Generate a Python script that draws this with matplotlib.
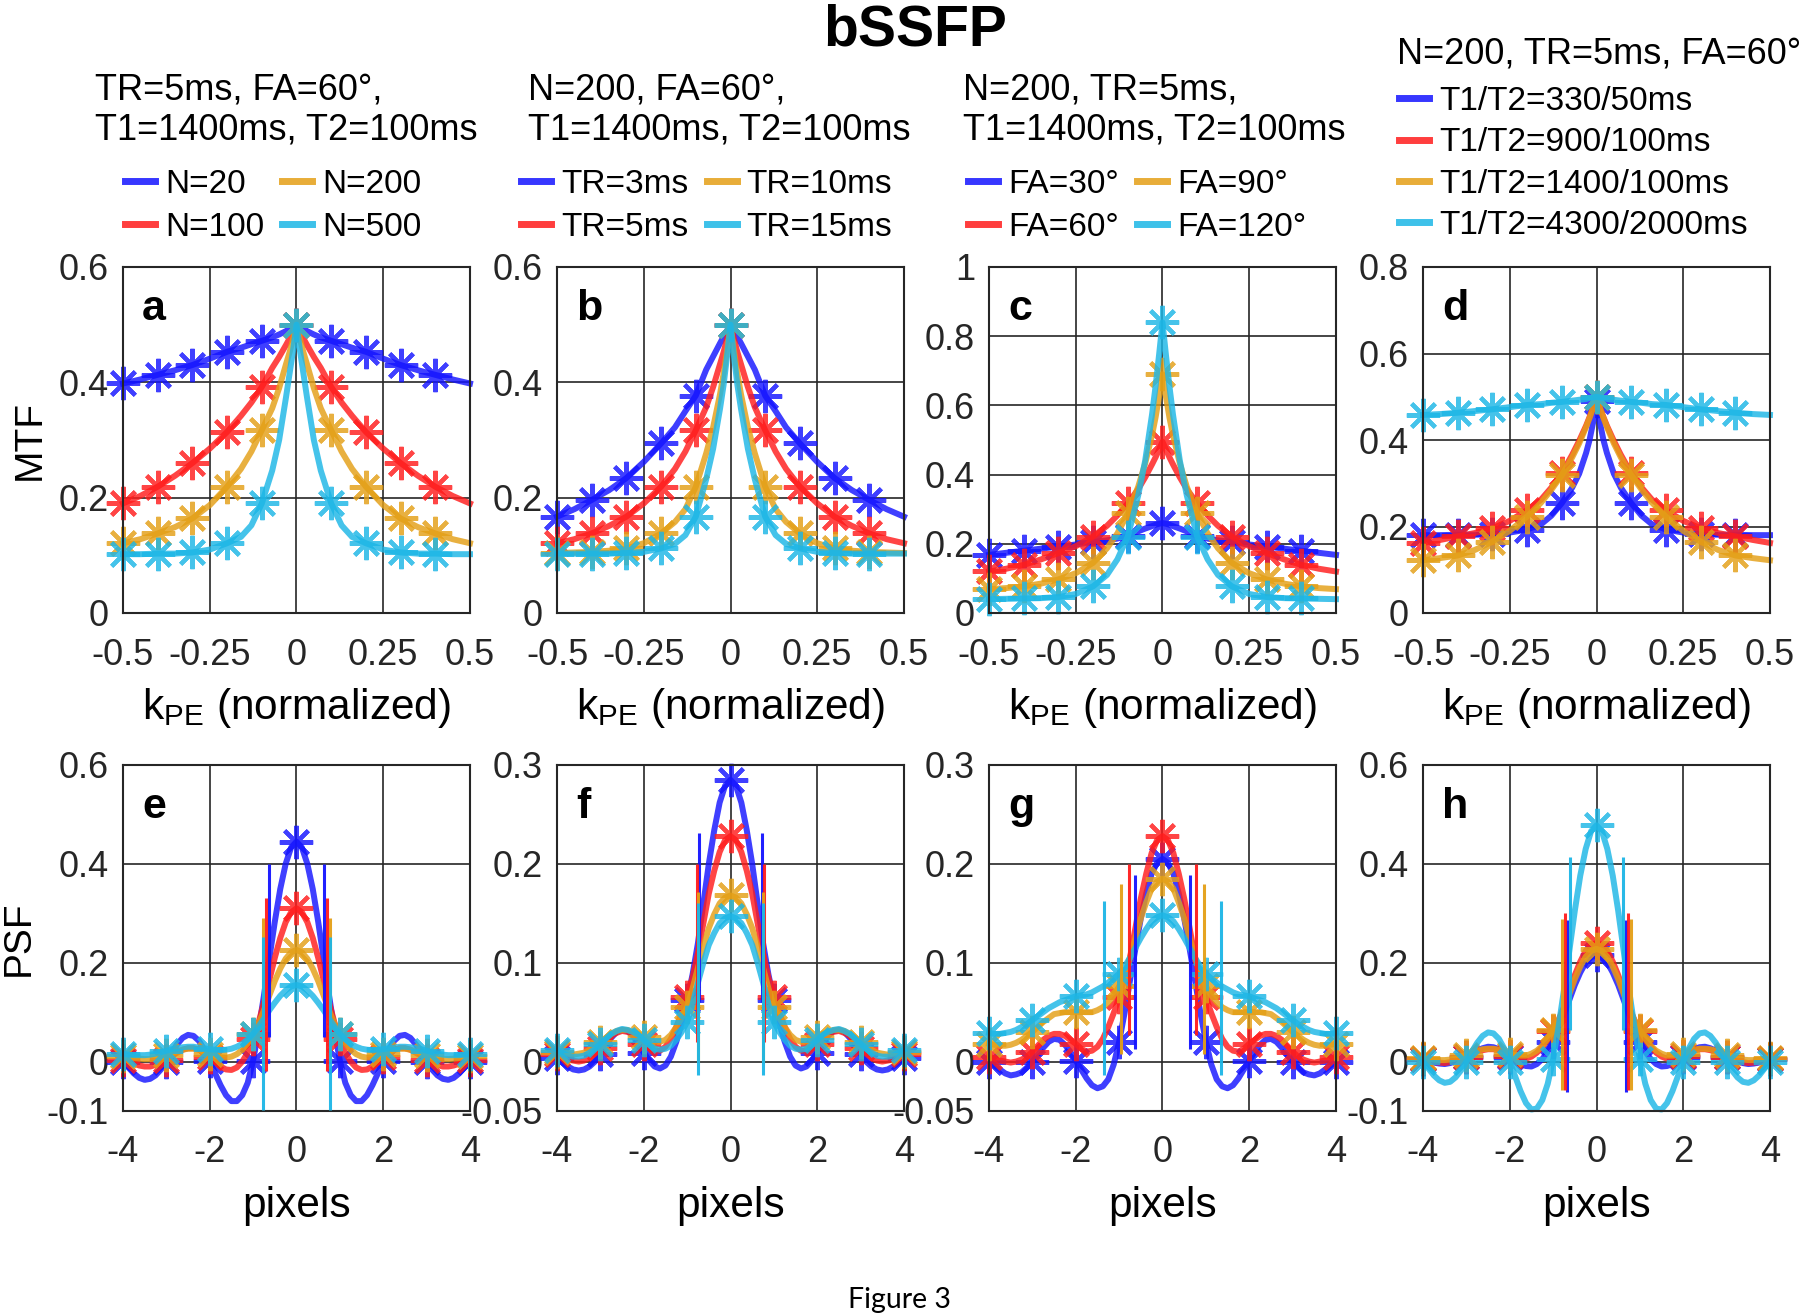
import numpy as np
import matplotlib
matplotlib.use("Agg")
import matplotlib.pyplot as plt
from matplotlib.lines import Line2D

plt.rcParams['font.family'] = ['Liberation Sans', 'DejaVu Sans']
plt.rcParams['mathtext.fontset'] = 'custom'
plt.rcParams['mathtext.rm'] = 'Liberation Sans'
plt.rcParams['mathtext.it'] = 'Liberation Sans:italic'

# ---------------- data (curves are symmetric, only k>=0 / x>=0 half is stored) -------------
k_half = [0, 0.01, 0.02, 0.03, 0.05, 0.07, 0.1, 0.13, 0.16, 0.2, 0.25, 0.3, 0.35, 0.4, 0.45, 0.5]
k_marks = [-0.5, -0.4, -0.3, -0.2, -0.1, 0.0, 0.1, 0.2, 0.3, 0.4]
pix_half = [0, 0.125, 0.25, 0.375, 0.5, 0.625, 0.75, 0.875, 1, 1.125, 1.25, 1.375, 1.5, 1.625, 1.75, 1.875,
            2, 2.125, 2.25, 2.375, 2.5, 2.625, 2.75, 2.875, 3, 3.125, 3.25, 3.375, 3.5, 3.625, 3.75, 3.875, 4]
pix_marks = [-4, -3, -2, -1, 0, 1, 2, 3, 4]

# MTF, panel a (N)
mtf_a = [
    [0.500, 0.496, 0.493, 0.489, 0.483, 0.478, 0.472, 0.466, 0.460, 0.453, 0.441, 0.430, 0.421, 0.413, 0.405, 0.398],
    [0.500, 0.488, 0.476, 0.465, 0.444, 0.425, 0.392, 0.365, 0.342, 0.314, 0.285, 0.260, 0.238, 0.219, 0.203, 0.190],
    [0.500, 0.475, 0.452, 0.432, 0.390, 0.355, 0.317, 0.280, 0.250, 0.219, 0.187, 0.164, 0.149, 0.138, 0.128, 0.121],
    [0.500, 0.455, 0.415, 0.375, 0.300, 0.247, 0.190, 0.152, 0.132, 0.121, 0.110, 0.105, 0.103, 0.103, 0.102, 0.102],
]
# MTF, panel b (TR)
mtf_b = [
    [0.500, 0.490, 0.479, 0.468, 0.445, 0.422, 0.377, 0.350, 0.322, 0.294, 0.262, 0.234, 0.213, 0.196, 0.180, 0.167],
    [0.500, 0.475, 0.452, 0.432, 0.392, 0.357, 0.317, 0.280, 0.250, 0.219, 0.190, 0.167, 0.151, 0.138, 0.128, 0.121],
    [0.500, 0.455, 0.415, 0.380, 0.322, 0.277, 0.219, 0.180, 0.158, 0.138, 0.121, 0.112, 0.108, 0.106, 0.105, 0.104],
    [0.500, 0.445, 0.395, 0.355, 0.285, 0.232, 0.167, 0.135, 0.120, 0.112, 0.106, 0.104, 0.103, 0.103, 0.103, 0.103],
]
# MTF, panel c (FA)
mtf_c = [
    [0.260, 0.258, 0.255, 0.251, 0.244, 0.236, 0.222, 0.215, 0.210, 0.205, 0.198, 0.192, 0.186, 0.180, 0.174, 0.168],
    [0.495, 0.472, 0.450, 0.430, 0.392, 0.358, 0.317, 0.282, 0.252, 0.221, 0.193, 0.173, 0.155, 0.139, 0.128, 0.120],
    [0.690, 0.625, 0.565, 0.515, 0.432, 0.365, 0.288, 0.230, 0.187, 0.145, 0.115, 0.097, 0.085, 0.077, 0.072, 0.069],
    [0.840, 0.745, 0.655, 0.575, 0.440, 0.340, 0.221, 0.155, 0.110, 0.077, 0.055, 0.046, 0.043, 0.042, 0.041, 0.040],
]
# MTF, panel d (T1/T2)
mtf_d = [
    [0.490, 0.440, 0.400, 0.370, 0.322, 0.290, 0.254, 0.225, 0.205, 0.193, 0.186, 0.182, 0.181, 0.181, 0.180, 0.180],
    [0.500, 0.475, 0.453, 0.433, 0.398, 0.366, 0.323, 0.290, 0.262, 0.238, 0.213, 0.196, 0.185, 0.177, 0.169, 0.162],
    [0.500, 0.474, 0.451, 0.430, 0.392, 0.360, 0.319, 0.285, 0.255, 0.223, 0.190, 0.165, 0.146, 0.133, 0.127, 0.122],
    [0.500, 0.498, 0.497, 0.495, 0.493, 0.491, 0.488, 0.486, 0.483, 0.481, 0.476, 0.471, 0.467, 0.463, 0.460, 0.458],
]

# PSF, panel e (N)
psf_e = [
    [0.445, 0.433, 0.400, 0.349, 0.283, 0.209, 0.134, 0.063, 0.002, -0.043, -0.068, -0.080, -0.080, -0.068, -0.048, -0.024,
     0.001, 0.024, 0.042, 0.052, 0.054, 0.048, 0.035, 0.018, 0.000, -0.016, -0.028, -0.035, -0.037, -0.033, -0.024, -0.012, 0.000],
    [0.310, 0.302, 0.282, 0.250, 0.210, 0.165, 0.120, 0.079, 0.045, 0.018, 0.000, -0.012, -0.017, -0.016, -0.010, -0.001,
     0.009, 0.018, 0.024, 0.027, 0.027, 0.024, 0.018, 0.011, 0.004, -0.002, -0.007, -0.010, -0.010, -0.008, -0.004, 0.000, 0.004],
    [0.226, 0.221, 0.208, 0.188, 0.163, 0.134, 0.104, 0.077, 0.055, 0.037, 0.024, 0.015, 0.010, 0.008, 0.009, 0.012,
     0.016, 0.020, 0.024, 0.026, 0.026, 0.024, 0.021, 0.017, 0.013, 0.009, 0.006, 0.005, 0.005, 0.006, 0.007, 0.009, 0.011],
    [0.155, 0.152, 0.144, 0.133, 0.119, 0.104, 0.087, 0.071, 0.056, 0.045, 0.036, 0.030, 0.026, 0.024, 0.023, 0.024,
     0.025, 0.027, 0.028, 0.030, 0.030, 0.029, 0.027, 0.025, 0.022, 0.019, 0.016, 0.014, 0.013, 0.013, 0.013, 0.014, 0.016],
]
# PSF, panel f (TR)
psf_f = [
    [0.285, 0.279, 0.262, 0.234, 0.200, 0.160, 0.120, 0.088, 0.062, 0.039, 0.020, 0.005, -0.004, -0.007, -0.005, 0.001,
     0.009, 0.018, 0.026, 0.031, 0.032, 0.030, 0.024, 0.016, 0.008, 0.000, -0.005, -0.008, -0.009, -0.008, -0.005, -0.001, 0.004],
    [0.228, 0.224, 0.212, 0.193, 0.170, 0.140, 0.110, 0.085, 0.065, 0.049, 0.035, 0.023, 0.015, 0.011, 0.011, 0.014,
     0.018, 0.023, 0.028, 0.030, 0.031, 0.029, 0.026, 0.020, 0.014, 0.008, 0.004, 0.001, 0.000, 0.001, 0.002, 0.005, 0.008],
    [0.168, 0.166, 0.160, 0.149, 0.135, 0.116, 0.095, 0.074, 0.055, 0.044, 0.035, 0.027, 0.022, 0.020, 0.020, 0.022,
     0.025, 0.028, 0.030, 0.032, 0.032, 0.031, 0.028, 0.024, 0.020, 0.016, 0.012, 0.009, 0.008, 0.007, 0.008, 0.009, 0.010],
    [0.147, 0.145, 0.140, 0.130, 0.118, 0.100, 0.080, 0.058, 0.040, 0.030, 0.022, 0.016, 0.013, 0.012, 0.013, 0.017,
     0.022, 0.027, 0.030, 0.032, 0.033, 0.031, 0.028, 0.023, 0.018, 0.013, 0.009, 0.006, 0.005, 0.005, 0.006, 0.009, 0.012],
]
# PSF, panel g (FA)
psf_g = [
    [0.205, 0.201, 0.190, 0.170, 0.145, 0.114, 0.082, 0.049, 0.020, -0.003, -0.018, -0.025, -0.027, -0.024, -0.017, -0.008,
     0.001, 0.010, 0.017, 0.022, 0.023, 0.020, 0.014, 0.007, 0.000, -0.006, -0.011, -0.013, -0.014, -0.012, -0.008, -0.004, 0.000],
    [0.228, 0.224, 0.211, 0.190, 0.165, 0.135, 0.105, 0.083, 0.065, 0.049, 0.035, 0.023, 0.015, 0.011, 0.010, 0.013,
     0.018, 0.022, 0.026, 0.028, 0.028, 0.026, 0.022, 0.016, 0.010, 0.005, 0.002, 0.000, -0.001, 0.000, 0.001, 0.003, 0.005],
    [0.185, 0.182, 0.175, 0.161, 0.145, 0.125, 0.105, 0.089, 0.076, 0.067, 0.060, 0.055, 0.052, 0.050, 0.050, 0.050,
     0.050, 0.050, 0.050, 0.049, 0.048, 0.044, 0.040, 0.035, 0.030, 0.026, 0.022, 0.019, 0.017, 0.016, 0.016, 0.017, 0.018],
    [0.148, 0.146, 0.142, 0.134, 0.125, 0.115, 0.105, 0.096, 0.089, 0.084, 0.080, 0.076, 0.073, 0.070, 0.068, 0.067,
     0.066, 0.064, 0.062, 0.060, 0.057, 0.054, 0.050, 0.046, 0.042, 0.038, 0.035, 0.032, 0.030, 0.029, 0.028, 0.028, 0.029],
]
# PSF, panel h (T1/T2)
psf_h = [
    [0.215, 0.211, 0.200, 0.180, 0.155, 0.125, 0.095, 0.066, 0.040, 0.020, 0.005, -0.005, -0.010, -0.009, -0.005, 0.002,
     0.010, 0.018, 0.025, 0.029, 0.030, 0.027, 0.022, 0.016, 0.010, 0.004, 0.000, -0.003, -0.005, -0.004, -0.002, 0.001, 0.005],
    [0.240, 0.236, 0.224, 0.202, 0.175, 0.143, 0.110, 0.084, 0.062, 0.044, 0.030, 0.018, 0.010, 0.006, 0.005, 0.008,
     0.012, 0.017, 0.022, 0.025, 0.025, 0.023, 0.020, 0.015, 0.010, 0.005, 0.002, -0.001, -0.003, -0.002, -0.001, 0.002, 0.005],
    [0.228, 0.224, 0.212, 0.192, 0.167, 0.137, 0.107, 0.084, 0.064, 0.046, 0.032, 0.022, 0.016, 0.012, 0.012, 0.013,
     0.016, 0.020, 0.024, 0.026, 0.026, 0.025, 0.022, 0.018, 0.014, 0.010, 0.006, 0.004, 0.003, 0.003, 0.004, 0.006, 0.008],
    [0.478, 0.466, 0.430, 0.376, 0.305, 0.225, 0.145, 0.070, 0.005, -0.045, -0.078, -0.095, -0.097, -0.084, -0.060, -0.030,
     0.000, 0.026, 0.046, 0.057, 0.059, 0.052, 0.038, 0.020, 0.000, -0.018, -0.032, -0.041, -0.043, -0.038, -0.028, -0.014, 0.000],
]

# width markers drawn in the PSF panels: half position, lower end, upper end
fwhm_e = ([0.63, 0.71, 0.77, 0.765], [0.05, -0.02, 0.0, -0.098], [0.40, 0.33, 0.29, 0.253])
fwhm_f = ([0.73, 0.77, 0.755, 0.755], [0.06, 0.02, 0.0, -0.014], [0.231, 0.20, 0.172, 0.16])
fwhm_g = ([0.64, 0.77, 0.96, 1.35], [0.013, 0.027, 0.008, -0.0135], [0.189, 0.20, 0.18, 0.162])
fwhm_h = ([0.68, 0.73, 0.785, 0.615], [-0.061, -0.058, -0.058, 0.064], [0.286, 0.30, 0.288, 0.414])

legend_a = ['N=20', 'N=100', 'N=200', 'N=500']
legend_b = ['TR=3ms', 'TR=5ms', 'TR=10ms', 'TR=15ms']
legend_c = ['FA=30°', 'FA=60°', 'FA=90°', 'FA=120°']
legend_d = ['T1/T2=330/50ms', 'T1/T2=900/100ms', 'T1/T2=1400/100ms', 'T1/T2=4300/2000ms']

header_a = ['TR=5ms, FA=60°,', 'T1=1400ms, T2=100ms']
header_b = ['N=200, FA=60°,', 'T1=1400ms, T2=100ms']
header_c = ['N=200, TR=5ms,', 'T1=1400ms, T2=100ms']
header_d = ['N=200, TR=5ms, FA=60°']

mtf_xticks = [-0.5, -0.25, 0, 0.25, 0.5]
mtf_xlabels = ['-0.5', '-0.25', '0', '0.25', '0.5']
psf_xticks = [-4, -2, 0, 2, 4]
psf_xlabels = ['-4', '-2', '0', '2', '4']

colors = ['#1414ff', '#ff1c1c', '#e49f16', '#1cb6e6']

# ---------------- layout ----------------
W, H = 1800, 1315
fig = plt.figure(figsize=(18, 13.15), dpi=100)
lefts = [123, 557, 989, 1423]


def add_ax(left_px, top_px):
    return fig.add_axes([left_px / W, 1 - (top_px + 346) / H, 347 / W, 346 / H])


def mirror(hx, hy):
    hx = np.asarray(hx, float)
    hy = np.asarray(hy, float)
    return np.r_[-hx[:0:-1], hx], np.r_[hy[:0:-1], hy]


def draw(ax, hx, series, marks):
    for vals, c in zip(series, colors):
        x, y = mirror(hx, vals)
        idx = np.flatnonzero(np.isin(np.round(x, 3), np.round(marks, 3))).tolist()
        ax.plot(x, y, color=c, lw=4.3, alpha=0.82, marker=(8, 2, 0), ms=24, mew=3,
                markevery=idx, clip_on=False, zorder=2, solid_joinstyle='round')


def style(ax, xlim, xt, xl, ylim, yt, yl, letter, xpad):
    ax.set_xlim(xlim)
    ax.set_ylim(ylim)
    ax.set_xticks(xt, xl)
    ax.set_yticks(yt, yl)
    ax.grid(True, color='#262626', lw=1.2)
    ax.set_axisbelow(True)
    ax.tick_params(length=0, labelsize=26, pad=10, colors='#262626')
    ax.tick_params(axis='x', pad=xpad)
    for s in ax.spines.values():
        s.set_linewidth(1.5)
        s.set_color('#262626')
    ax.text(0.055, 0.847, letter, transform=ax.transAxes, fontsize=31, weight='bold')


def side_label(ax, text, x_px):
    ax.set_ylabel(text, fontsize=28)
    ax.yaxis.set_label_coords((x_px - 123) / 347, 0.5)
    ax.yaxis.label.set_verticalalignment('center')


handles = [Line2D([], [], color=c, lw=5, alpha=0.85) for c in colors]

# top row: MTF
top_cfg = [
    (mtf_a, legend_a, 2, (125, 169), header_a, 95, 'a', [0, 0.2, 0.4, 0.6], ['0', '0.2', '0.4', '0.6'], (0, 0.6)),
    (mtf_b, legend_b, 2, (521, 169), header_b, 528, 'b', [0, 0.2, 0.4, 0.6], ['0', '0.2', '0.4', '0.6'], (0, 0.6)),
    (mtf_c, legend_c, 2, (968, 169), header_c, 963, 'c', [0, 0.2, 0.4, 0.6, 0.8, 1],
     ['0', '0.2', '0.4', '0.6', '0.8', '1'], (0, 1)),
    (mtf_d, legend_d, 1, (1399, 86), header_d, 1397, 'd', [0, 0.2, 0.4, 0.6, 0.8],
     ['0', '0.2', '0.4', '0.6', '0.8'], (0, 0.8)),
]
for i, (data, labels, ncol, anchor, header, hx_px, letter, yt, yl, ylim) in enumerate(top_cfg):
    ax = add_ax(lefts[i], 267)
    draw(ax, k_half, data, k_marks)
    style(ax, (-0.5, 0.5), mtf_xticks, mtf_xlabels, ylim, yt, yl, letter, 18)
    ax.set_xlabel(r'k$_{\mathrm{PE}}$ (normalized)', fontsize=30.5, labelpad=9)
    if i == 0:
        side_label(ax, 'MTF', 30)
    ax.legend(handles, labels, ncol=ncol, loc='upper left',
              bbox_to_anchor=(anchor[0] / W, 1 - anchor[1] / H), bbox_transform=fig.transFigure,
              frameon=False, fontsize=24, handlelength=0.9, handletextpad=0.3,
              columnspacing=0.55, labelspacing=0.36 if ncol == 2 else 0.31,
              borderpad=0, borderaxespad=0)
    if len(header) == 2:
        fig.text(hx_px / W, 1 - 100 / H, header[0], fontsize=26, va='baseline')
        fig.text(hx_px / W, 1 - 140 / H, header[1], fontsize=26, va='baseline')
    else:
        fig.text(hx_px / W, 1 - 63 / H, header[0], fontsize=26, va='baseline')

# bottom row: PSF
bot_cfg = [
    (psf_e, fwhm_e, 'e', (-0.1, 0.6), [-0.1, 0, 0.2, 0.4, 0.6], ['-0.1', '0', '0.2', '0.4', '0.6']),
    (psf_f, fwhm_f, 'f', (-0.05, 0.3), [-0.05, 0, 0.1, 0.2, 0.3], ['-0.05', '0', '0.1', '0.2', '0.3']),
    (psf_g, fwhm_g, 'g', (-0.05, 0.3), [-0.05, 0, 0.1, 0.2, 0.3], ['-0.05', '0', '0.1', '0.2', '0.3']),
    (psf_h, fwhm_h, 'h', (-0.1, 0.6), [-0.1, 0, 0.2, 0.4, 0.6], ['-0.1', '0', '0.2', '0.4', '0.6']),
]
for i, (data, fw, letter, ylim, yt, yl) in enumerate(bot_cfg):
    ax = add_ax(lefts[i], 765)
    draw(ax, pix_half, data, pix_marks)
    for xw, lo, hi, c in zip(fw[0], fw[1], fw[2], colors):
        ax.vlines([-xw, xw], lo, hi, color=c, lw=2.2, alpha=0.95, zorder=3)
    style(ax, (-4, 4), psf_xticks, psf_xlabels, ylim, yt, yl, letter, 17)
    ax.set_xlabel('pixels', fontsize=30.5, labelpad=12)
    if i == 0:
        side_label(ax, 'PSF', 19)

fig.text(915 / W, 1 - 45 / H, 'bSSFP', fontsize=41, weight='bold', ha='center', va='baseline')
fig.text(0.5, 1 - 1308 / H, 'Figure 3', fontsize=20.5, family=['Lato', 'DejaVu Sans'],
         ha='center', va='baseline')

fig.savefig('out.png', dpi=100)
